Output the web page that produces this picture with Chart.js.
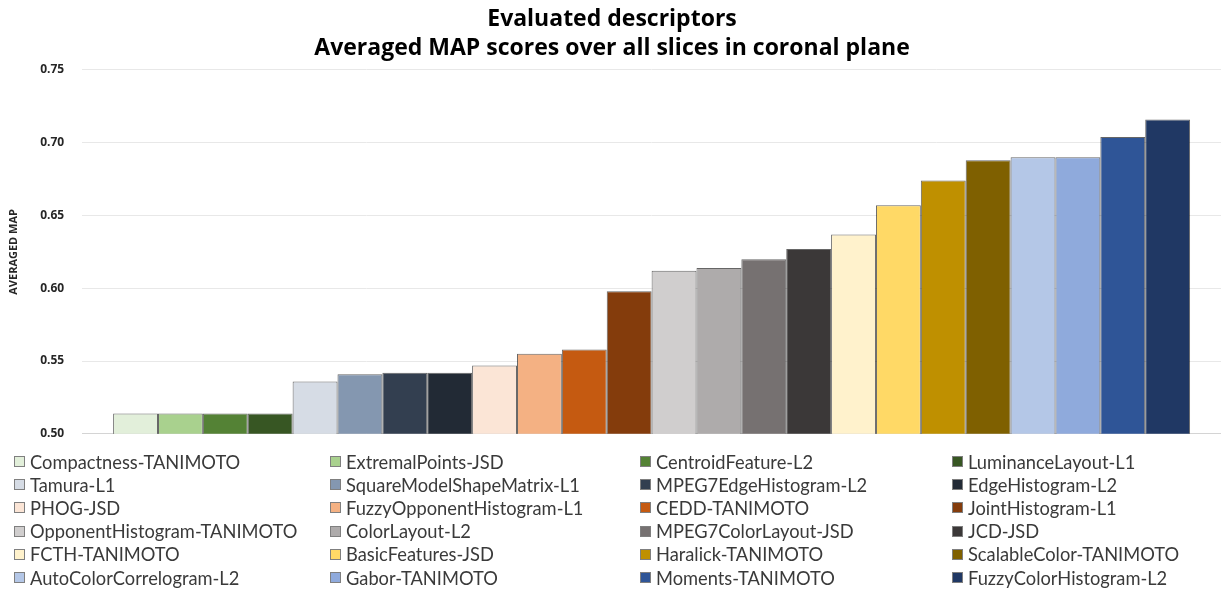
<!DOCTYPE html>
<html>
<head>
<meta charset="utf-8">
<script src="https://cdn.jsdelivr.net/npm/chart.js@4/dist/chart.umd.min.js"></script>
<style>
  html, body { margin: 0; padding: 0; background: #fff; }
  #wrap { position: relative; width: 1221px; height: 593px; }
  #myChart { position: absolute; left: 0; top: 0; }
  #legend {
    position: absolute; left: 14px; top: 450px; width: 1200px;
    display: grid; grid-template-columns: 316px 310px 312px 1fr;
    font-family: Lato, "Open Sans", sans-serif; font-size: 18.3px; color: #3a3a3a;
  }
  #legend .item { display: flex; align-items: center; height: 23.2px; white-space: nowrap; }
  #legend .box { width: 11px; height: 11px; border: 1px solid #7f7f7f; margin-right: 5px; box-sizing: border-box; flex: none; }
</style>
</head>
<body>
<div id="wrap">
  <canvas id="myChart" width="1221" height="459"></canvas>
  <div id="legend"></div>
</div>
<script>
var descriptors = [
  "Compactness-TANIMOTO", "ExtremalPoints-JSD", "CentroidFeature-L2", "LuminanceLayout-L1",
  "Tamura-L1", "SquareModelShapeMatrix-L1", "MPEG7EdgeHistogram-L2", "EdgeHistogram-L2",
  "PHOG-JSD", "FuzzyOpponentHistogram-L1", "CEDD-TANIMOTO", "JointHistogram-L1",
  "OpponentHistogram-TANIMOTO", "ColorLayout-L2", "MPEG7ColorLayout-JSD", "JCD-JSD",
  "FCTH-TANIMOTO", "BasicFeatures-JSD", "Haralick-TANIMOTO", "ScalableColor-TANIMOTO",
  "AutoColorCorrelogram-L2", "Gabor-TANIMOTO", "Moments-TANIMOTO", "FuzzyColorHistogram-L2"
];
var mapScores = [
  0.514, 0.514, 0.514, 0.514,
  0.536, 0.541, 0.542, 0.542,
  0.547, 0.555, 0.558, 0.598,
  0.612, 0.614, 0.620, 0.627,
  0.637, 0.657, 0.674, 0.688,
  0.690, 0.690, 0.704, 0.716
];
var barColors = [
  "#E2EFDA", "#A9D18E", "#548235", "#375623",
  "#D6DCE5", "#8497B0", "#333F50", "#222A35",
  "#FBE5D6", "#F4B183", "#C55A11", "#843C0C",
  "#D0CECE", "#AEABAB", "#767171", "#3B3838",
  "#FFF2CC", "#FFD966", "#BF9000", "#7F6000",
  "#B4C7E7", "#8FAADC", "#2F5597", "#203864"
];
var yTicks = [0.50, 0.55, 0.60, 0.65, 0.70, 0.75];

var datasets = [];
for (var i = 0; i < descriptors.length; i++) {
  datasets.push({
    label: descriptors[i],
    data: [mapScores[i]],
    backgroundColor: barColors[i],
    borderColor: "rgba(0,0,0,0.6)",
    borderWidth: 1,
    borderSkipped: false,
    barPercentage: 1,
    categoryPercentage: 0.9457
  });
}

// html legend in 4 columns, filled row by row
var htmlLegend = {
  id: 'htmlLegend',
  afterUpdate: function(chart) {
    var box = document.getElementById('legend');
    box.innerHTML = '';
    chart.data.datasets.forEach(function(ds) {
      var item = document.createElement('div');
      item.className = 'item';
      var sw = document.createElement('span');
      sw.className = 'box';
      sw.style.background = ds.backgroundColor;
      var txt = document.createElement('span');
      txt.textContent = ds.label;
      item.appendChild(sw);
      item.appendChild(txt);
      box.appendChild(item);
    });
  }
};

var ctx = document.getElementById('myChart').getContext('2d');
var myChart = new Chart(ctx, {
  type: 'bar',
  data: { labels: [''], datasets: datasets },
  plugins: [htmlLegend],
  options: {
    responsive: false,
    animation: false,
    layout: { padding: { left: 3, right: 0, top: 0, bottom: 7 } },
    plugins: {
      legend: { display: false },
      tooltip: { enabled: false },
      title: {
        display: true,
        text: ['Evaluated descriptors', 'Averaged MAP scores over all slices in coronal plane'],
        font: { family: '"Open Sans", sans-serif', size: 23, weight: 'bold', lineHeight: 1.26 },
        color: '#000',
        padding: { top: 5, bottom: 7 }
      }
    },
    scales: {
      x: { display: false },
      y: {
        min: yTicks[0],
        max: yTicks[yTicks.length - 1],
        afterBuildTicks: function(scale) {
          scale.ticks = yTicks.map(function(v) { return { value: v }; });
        },
        border: { display: false },
        grid: {
          drawTicks: false,
          lineWidth: 1,
          color: function(c) { return c.index === 0 ? '#d4d4d4' : '#e8e8e8'; }
        },
        ticks: {
          padding: 18,
          color: '#262626',
          font: { family: '"Open Sans", sans-serif', size: 12, weight: 'bold' },
          callback: function(v) { return Number(v).toFixed(2); }
        },
        title: {
          display: true,
          text: 'AVERAGED MAP',
          color: '#262626',
          font: { family: '"Open Sans", sans-serif', size: 11, weight: 'bold' },
          padding: { top: 4, bottom: 2 }
        }
      }
    }
  }
});
</script>
</body>
</html>
